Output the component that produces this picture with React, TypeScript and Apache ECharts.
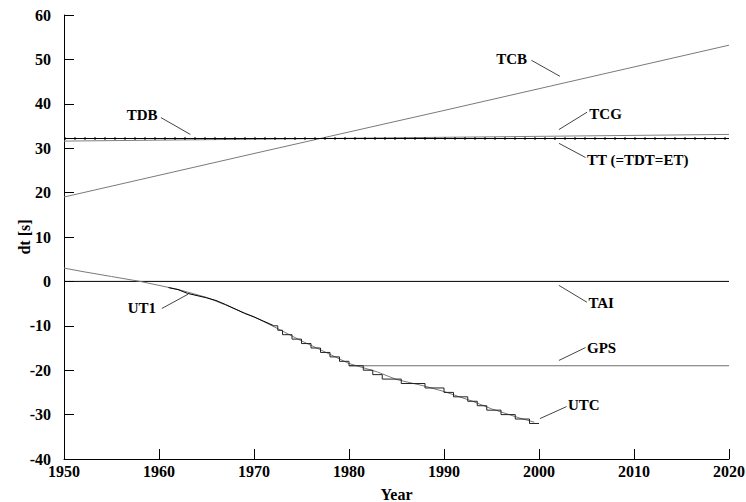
import React, { useEffect, useRef } from "react";
import * as echarts from "echarts";

// ---- data (years, seconds relative to TAI) ----
const ttLevel = 32.184;
const tcgYears = [1950, 2020];
const tcgValues = [31.6, 33.1];
const tcbYears = [1950, 1960, 1970, 1977, 1990, 2000, 2010, 2020];
const tcbValues = [19.0, 23.9, 28.8, 32.2, 38.5, 43.4, 48.3, 53.2];
const taiYears = [1950, 2020];
const taiValues = [0, 0];
const gpsYears = [1980, 2020];
const gpsValues = [-19, -19];
const ut1Years = [1950, 1952, 1955, 1958, 1960, 1962, 1963, 1965, 1967, 1970, 1972, 1975, 1977, 1980, 1983, 1985, 1988, 1990, 1993, 1995, 1998, 1999.5];
const ut1Values = [3.0, 2.2, 1.1, 0.0, -0.9, -1.8, -2.4, -3.6, -5.3, -8.0, -10.1, -13.4, -15.4, -18.5, -20.4, -22.1, -23.6, -24.8, -27.0, -28.7, -30.8, -31.7];
const utcEarlyYears = [1961, 1962, 1963, 1964, 1965, 1966, 1967, 1968, 1969, 1970, 1971, 1972];
const utcEarlyValues = [-1.4, -1.85, -2.7, -3.2, -3.7, -4.3, -5.2, -6.2, -7.2, -8.0, -8.95, -9.9];
const utcYears = [1972.0, 1972.5, 1973, 1974, 1975, 1976, 1977, 1978, 1979, 1980, 1981.5, 1982.5, 1983.5, 1985.5, 1988, 1990, 1991, 1992.5, 1993.5, 1994.5, 1996, 1997.5, 1999, 2000];
const utcValues = [-10, -11, -12, -13, -14, -15, -16, -17, -18, -19, -20, -21, -22, -23, -24, -25, -26, -27, -28, -29, -30, -31, -32, -32];

const xTicks = [1950, 1960, 1970, 1980, 1990, 2000, 2010, 2020];

// annotation labels: text, text anchor [year, value], leader from/to [year, value]
const labelTexts = ["TCB", "TDB", "TCG", "TT (=TDT=ET)", "TAI", "GPS", "UTC", "UT1"];
const labelAt = [[1995.5, 50.0], [1956.6, 37.4], [2005.3, 37.6], [2005.05, 27.25], [2005.2, -4.95], [2005.05, -14.9], [2003.05, -27.9], [1956.7, -5.9]];
const leaderFrom = [[1999.2, 49.8], [1960.2, 36.9], [2005.05, 38.1], [2004.9, 27.9], [2005.05, -4.7], [2004.9, -14.9], [2002.9, -28.2], [1960.3, -6.1]];
const leaderTo = [[2002.2, 46.2], [1963.3, 33.1], [2002.1, 34.2], [2002.1, 31.1], [2002.1, -0.9], [2002.1, -17.8], [2000.1, -30.9], [1963.05, -2.9]];

const zip = (xs: number[], ys: number[]) => xs.map((x, i) => [x, ys[i]]);
const FONT = "'Liberation Serif', 'Times New Roman', serif";

export default function App() {
  const ref = useRef<HTMLDivElement>(null);
  useEffect(() => {
    if (!ref.current) return;
    const chart = echarts.init(ref.current, undefined, { renderer: "svg" });
    const line = (name: string, data: number[][], color: string, extra: any = {}) => ({
      name,
      type: "line",
      data,
      symbol: "none",
      silent: true,
      lineStyle: { color, width: 1, ...(extra.lineStyle || {}) },
      ...(extra.step ? { step: extra.step } : {}),
      z: extra.z ?? 2,
    });
    chart.setOption({
      animation: false,
      backgroundColor: "#ffffff",
      grid: { left: 64, right: 17, top: 15, bottom: 43, containLabel: false, outerBoundsMode: "none" },
      xAxis: {
        type: "value",
        min: 1950,
        max: 2020,
        interval: 10,
        name: "Year",
        nameLocation: "middle",
        nameGap: 27,
        nameMoveOverlap: false,
        nameTextStyle: { fontFamily: FONT, fontWeight: "bold", fontSize: 16, color: "#000" },
        axisLine: { onZero: false, lineStyle: { color: "#000", width: 1 } },
        axisTick: { inside: true, length: 10, lineStyle: { color: "#000" } },
        axisLabel: {
          fontFamily: FONT, fontWeight: "bold", fontSize: 16, color: "#000", margin: 4,
          customValues: xTicks,
          formatter: (v: number) => String(v),
        },
        splitLine: { show: false },
      },
      yAxis: {
        type: "value",
        min: -40,
        max: 60,
        interval: 10,
        name: "dt [s]",
        nameLocation: "middle",
        nameGap: 32,
        nameMoveOverlap: false,
        nameTextStyle: { fontFamily: FONT, fontWeight: "bold", fontSize: 16, color: "#000" },
        axisLine: { show: true, onZero: false, lineStyle: { color: "#000", width: 1 } },
        axisTick: { show: true, inside: true, length: 10, lineStyle: { color: "#000" } },
        axisLabel: { fontFamily: FONT, fontWeight: "bold", fontSize: 16, color: "#000", margin: 13 },
        splitLine: { show: false },
      },
      series: [
        line("TCG", zip(tcgYears, tcgValues), "#808080"),
        line("TCB", zip(tcbYears, tcbValues), "#7a7a7a"),
        line("TT", [[1950, ttLevel], [2020, ttLevel]], "#000", { z: 3 }),
        line("TDB", [[1950, ttLevel], [2020, ttLevel]], "#000", { lineStyle: { width: 2, type: [2, 8] }, z: 4 }),
        line("TAI", zip(taiYears, taiValues), "#000"),
        line("GPS", zip(gpsYears, gpsValues), "#6e6e6e"),
        line("UT1", zip(ut1Years, ut1Values), "#7a7a7a"),
        line("UTC early", zip(utcEarlyYears, utcEarlyValues), "#000"),
        line("UTC", zip(utcYears, utcValues), "#222", { step: "end" }),
      ],
    });

    const px = (p: number[]) => chart.convertToPixel({ gridIndex: 0 }, p) as number[];
    const graphics: any[] = [];
    labelTexts.forEach((t, i) => {
      const a = px(leaderFrom[i]);
      const b = px(leaderTo[i]);
      graphics.push({
        type: "line",
        silent: true,
        shape: { x1: a[0], y1: a[1], x2: b[0], y2: b[1] },
        style: { stroke: "#444", lineWidth: 1 },
        z: 10,
      });
      const p = px(labelAt[i]);
      graphics.push({
        type: "text",
        silent: true,
        x: p[0],
        y: p[1],
        style: {
          text: t,
          fill: "#000",
          font: `bold 15px ${FONT}`,
          textAlign: "left",
          textVerticalAlign: "middle",
        },
        z: 10,
      });
    });
    chart.setOption({ graphic: graphics });
    return () => chart.dispose();
  }, []);
  return <div ref={ref} style={{ width: 746, height: 502, position: "absolute", left: 0, top: 0 }} />;
}
